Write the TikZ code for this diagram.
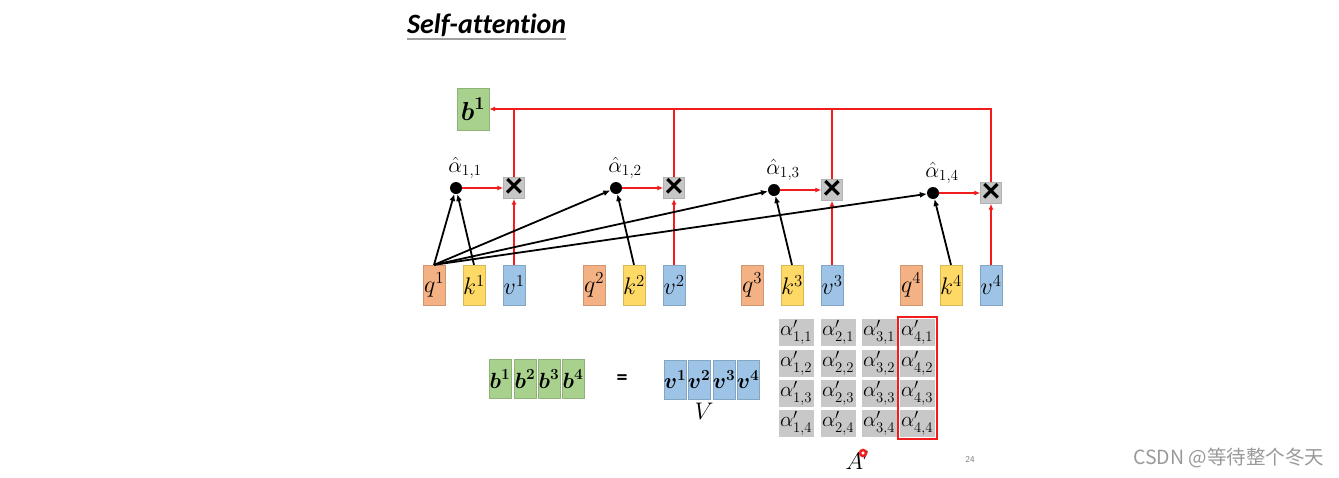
\RequirePackage{fix-cm}
\documentclass[tikz,border=0pt]{standalone}
\usepackage{amsmath,amssymb}
\usepackage{fontspec}
\newfontfamily\titlefont[Ligatures=NoCommon]{Carlito}
\newfontfamily\cjkfont{Noto Sans CJK SC}
\usepackage{xcolor}
\usetikzlibrary{arrows.meta,positioning,fit,calc}

\definecolor{qcol}{HTML}{F4B183}
\definecolor{kcol}{HTML}{FFD966}
\definecolor{vcol}{HTML}{9DC3E6}
\definecolor{bcol}{HTML}{A9D18E}
\definecolor{cellcol}{HTML}{C8C8C8}
\definecolor{linered}{HTML}{F21C1C}

\begin{document}
\begin{tikzpicture}[
  x=1pt, y=-1pt,
  vec/.style={fill=#1, draw=#1!85!black, line width=0.3pt, minimum width=22pt, minimum height=40pt, inner sep=0pt, font=\fontsize{24}{26}\selectfont},
  cell/.style={fill=cellcol, draw=white, line width=1pt, minimum width=36pt, minimum height=28pt, inner sep=0pt, font=\fontsize{21}{23}\selectfont},
  mul/.style={fill=gray!45, draw=gray!60, minimum size=21pt, inner sep=0pt, font=\titlefont\bfseries\fontsize{36}{36}\selectfont},
  dot/.style={circle, fill=black, inner sep=0pt, minimum size=12pt},
  redarr/.style={-{Latex[length=6pt,width=5pt]}, linered, line width=1.3pt},
  blkarr/.style={-{Latex[length=7pt,width=6pt]}, black, line width=1.8pt}
]
\useasboundingbox (0,0) rectangle (1339,477);

% title
\node[anchor=base west, inner sep=0pt, font=\titlefont\fontsize{28}{30}\selectfont\bfseries\itshape] (title) at (407,33) {Self-attention};
\draw[gray!75, line width=2pt] ([yshift=-6pt]title.base west) -- ([yshift=-6pt]title.base east);

% output b^1
\node[vec=bcol, minimum width=32pt, minimum height=42pt, font=\fontsize{26}{28}\selectfont] (b) at (473,109) {$\boldsymbol{b}^{\boldsymbol{1}}$};

% q, k, v and the weighted sum
\foreach \i/\x/\y in {1/434/188, 2/594/188, 3/752/190, 4/911/193} {
  \node[vec=qcol] (q\i) at (\x,285) {$q^{\i}$};
  \node[vec=kcol] (k\i) at (\x+40,285) {$k^{\i}$};
  \node[vec=vcol] (v\i) at (\x+80,285) {$v^{\i}$};
  \node[dot] (a\i) at (\x+22,\y) {};
  \node[above=3pt of a\i, xshift=9pt, inner sep=0pt, font=\fontsize{22}{24}\selectfont] (lab\i) {$\hat{\alpha}_{1,\i}$};
  \node[mul] (m\i) at (\x+80,\y) {×};
  \draw[redarr] (a\i) -- (m\i);
  \draw[redarr] (v\i) -- (m\i);
  \draw[blkarr] (k\i.north) -- (a\i);
  \draw[blkarr] (q1.north) -- (a\i);
}
\foreach \i in {1,2,3} \draw[linered, line width=1.3pt] (m\i.north) -- (m\i.north |- b.east);
\draw[redarr] (m4.north) |- (b.east);

% matrix form
\foreach \i/\x in {1/500, 2/525, 3/549, 4/573}
  \node[vec=bcol, minimum height=39pt, font=\fontsize{22}{24}\selectfont] (bb\i) at (\x,379) {$\boldsymbol{b}^{\boldsymbol{\i}}$};
\node[font=\titlefont\fontsize{22}{24}\selectfont\bfseries] (eq) at (622,380) {=};
\foreach \i/\x in {1/675, 2/699, 3/724, 4/748}
  \node[vec=vcol, minimum width=21pt, minimum height=39pt, font=\fontsize{22}{24}\selectfont] (vv\i) at (\x,380) {$\boldsymbol{v}^{\boldsymbol{\i}}$};
\node[font=\fontsize{24}{26}\selectfont] (V) at (704,411) {$V$};

\foreach \c/\cx in {1/796, 2/838, 3/879, 4/917}
  \foreach \r/\ry in {1/332, 2/363, 3/393, 4/423}
    \node[cell] (c\c\r) at (\cx,\ry) {$\alpha'_{\c,\r}$};
\node[draw=linered, line width=2pt, fit=(c41)(c44), inner sep=1pt] (col4) {};
\node[font=\fontsize{24}{26}\selectfont] (Ap) at (857,460) {$A'$};
\draw[linered, line width=2.5pt] (863,453) circle (3);

\node[font=\sffamily\fontsize{9}{10}\selectfont, text=gray] (page) at (970,459) {24};
\node[anchor=west, inner sep=0pt, font=\cjkfont\fontsize{19.5}{21}\selectfont, text=gray!80] (mark) at (1133,458) {CSDN @等待整个冬天};
\end{tikzpicture}
\end{document}
